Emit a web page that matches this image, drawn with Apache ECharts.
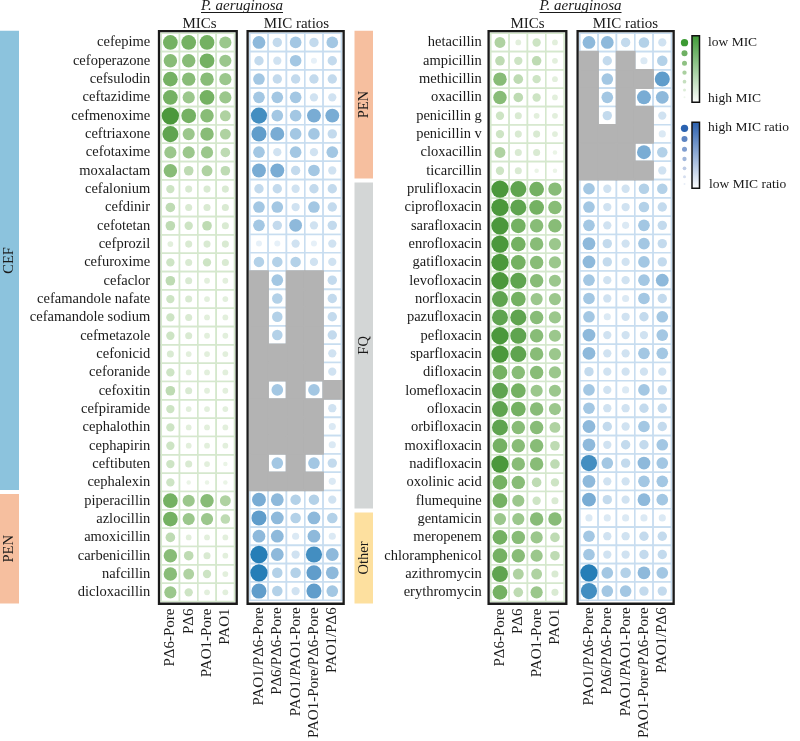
<!DOCTYPE html>
<html><head><meta charset="utf-8">
<script src="https://cdn.jsdelivr.net/npm/echarts@6/dist/echarts.min.js"></script>
<style>html,body{margin:0;padding:0;background:#fff}#c{width:800px;height:741px}</style>
</head><body><div id="c"></div>
<script>
// ---------------- data ----------------
const micCols = ['PΔ6-Pore', 'PΔ6', 'PAO1-Pore', 'PAO1'];
const ratioCols = ['PAO1/PΔ6-Pore', 'PΔ6/PΔ6-Pore', 'PAO1/PAO1-Pore', 'PAO1-Pore/PΔ6-Pore', 'PAO1/PΔ6'];

const leftDrugs = ['cefepime','cefoperazone','cefsulodin','ceftazidime','cefmenoxime','ceftriaxone','cefotaxime','moxalactam','cefalonium','cefdinir','cefotetan','cefprozil','cefuroxime','cefaclor','cefamandole nafate','cefamandole sodium','cefmetazole','cefonicid','ceforanide','cefoxitin','cefpiramide','cephalothin','cephapirin','ceftibuten','cephalexin','piperacillin','azlocillin','amoxicillin','carbenicillin','nafcillin','dicloxacillin'];
const rightDrugs = ['hetacillin','ampicillin','methicillin','oxacillin','penicillin g','penicillin v','cloxacillin','ticarcillin','prulifloxacin','ciprofloxacin','sarafloxacin','enrofloxacin','gatifloxacin','levofloxacin','norfloxacin','pazufloxacin','pefloxacin','sparfloxacin','difloxacin','lomefloxacin','ofloxacin','orbifloxacin','moxifloxacin','nadifloxacin','oxolinic acid','flumequine','gentamicin','meropenem','chloramphenicol','azithromycin','erythromycin'];

const leftGroups = [['CEF', 25], ['PEN', 6]];
const rightGroups = [['PEN', 8], ['FQ', 18], ['Other', 5]];

// levels 0 (high MIC / low ratio) .. 10 (low MIC / high ratio); null = not available
const N_ = null;
const leftMIC = [
[8,8,8,6],[7,7,8,6],[8,7,7,6],[8,6,8,6],[10,8,7,5],[9,6,7,5],[6,6,6,4],[7,4,5,4],
[3,2,2,2],[4,2,2,2],[4,3,4,2],[1,2,2,2],[3,2,3,2],[4,2,1,1],[3,2,1,1],[3,2,1,1],
[3,2,1,1],[2,1,1,1],[3,1,1,1],[4,2,1,1],[3,1,1,1],[3,1,1,1],[3,1,1,1],[3,2,1,0],
[3,0,0,0],[8,6,7,5],[8,6,6,4],[4,1,1,1],[7,4,2,1],[7,5,3,1],[6,3,1,1]];
const leftRatio = [
[6,3,5,3,5],[3,2,5,0,3],[5,3,3,3,3],[5,5,5,2,2],[9,5,5,7,7],[8,7,5,5,3],[5,2,5,2,5],[7,7,3,5,2],
[3,3,2,3,3],[5,5,2,5,3],[5,3,6,2,3],[0,0,2,0,2],[4,4,4,2,2],
[N_,5,N_,N_,3],[N_,4,N_,N_,3],[N_,4,N_,N_,3],[N_,4,N_,N_,3],[N_,N_,N_,N_,2],[N_,N_,N_,N_,2],
[N_,5,N_,5,N_],[N_,N_,N_,N_,2],[N_,N_,N_,N_,1],[N_,N_,N_,N_,1],[N_,5,N_,5,3],[N_,N_,N_,N_,1],
[7,6,4,4,2],[8,6,4,6,4],[6,6,1,6,1],[10,6,2,9,6],[10,4,4,8,6],[8,4,2,8,5]];
const rightMIC = [
[5,1,3,1],[4,3,4,1],[7,4,3,1],[7,4,3,1],[3,2,1,1],[3,2,2,1],[5,2,2,0],[3,2,0,0],
[10,9,8,7],[10,9,8,7],[10,8,7,7],[10,8,7,6],[10,8,7,6],[10,9,7,6],[9,8,6,6],[9,9,7,6],
[10,9,7,6],[10,9,7,6],[8,7,7,6],[9,8,6,6],[9,8,7,6],[9,7,7,5],[8,7,7,4],[10,7,7,4],
[8,7,4,3],[8,6,3,2],[6,6,7,7],[8,7,6,4],[8,7,6,4],[9,5,5,2],[8,4,6,2]];
const rightRatio = [
[6,6,3,4,2],[N_,3,N_,1,4],[N_,5,N_,N_,8],[N_,5,N_,7,6],[N_,3,N_,N_,2],[N_,N_,N_,N_,1],[N_,N_,N_,7,4],[N_,N_,N_,N_,2],
[5,2,2,4,4],[5,2,2,4,3],[5,2,1,5,3],[6,3,2,5,3],[6,3,2,5,3],[5,2,2,5,6],[5,2,1,5,3],[5,1,2,3,5],
[6,2,2,2,5],[6,2,2,5,5],[3,2,2,2,2],[5,2,1,5,3],[5,2,2,3,3],[6,3,2,5,3],[6,2,3,3,5],[9,5,3,6,5],
[6,2,2,5,5],[7,3,2,6,5],[1,1,1,1,1],[5,2,2,3,3],[5,2,2,3,3],[10,5,4,6,5],[9,5,5,3,3]];

// ---------------- styles / layout ----------------
const FONT = 'Liberation Serif';
const TXT = '#1a1a1a';
const groupColors = {CEF:'#8cc3dd', PEN:'#f6bf9f', FQ:'#d3d6d6', Other:'#fde09f'};
const greenStops = ['#eaf4e6','#d5e8cd','#afd2a1','#7eb76c','#4b983b'];
const blueStops = ['#e6f0f8','#cbdfef','#a3c7e3','#6fa5d0','#267eb7'];
const NA_COLOR = '#b3b3b3';
const CELL = 18.33, TOP = 33.3, NROW = leftDrugs.length, H = CELL * NROW;

const panels = [
  {left:161.2, cols:micCols,   drugs:leftDrugs,  vals:leftMIC,    line:'#d5e8cd', vm:0, labels:true,  margin:11},
  {left:249.8, cols:ratioCols, drugs:leftDrugs,  vals:leftRatio,  line:'#c8ddf0', vm:1, labels:false, margin:0},
  {left:490.8, cols:micCols,   drugs:rightDrugs, vals:rightMIC,   line:'#d5e8cd', vm:0, labels:true,  margin:9},
  {left:579.8, cols:ratioCols, drugs:rightDrugs, vals:rightRatio, line:'#c8ddf0', vm:1, labels:false, margin:0}
];

const grid = [], xAxis = [], yAxis = [], series = [];
const vmSeries = [[], []];
panels.forEach((p, i) => {
  grid.push({left:p.left, top:TOP, width:CELL * p.cols.length, height:H});
  xAxis.push({type:'category', gridIndex:i, data:p.cols, position:'bottom',
    axisLine:{show:false}, axisTick:{show:false}, splitLine:{show:false},
    axisLabel:{rotate:90, interval:0, margin:7, fontFamily:FONT, fontSize:15, color:TXT}});
  yAxis.push({type:'category', gridIndex:i, data:p.drugs, inverse:true,
    axisLine:{show:false}, axisTick:{show:false}, splitLine:{show:false},
    axisLabel:{show:p.labels, interval:0, margin:p.margin, fontFamily:FONT, fontSize:14.5, color:TXT}});
  const cells = [], dots = [];
  p.vals.forEach((row, r) => row.forEach((v, c) => {
    cells.push([c, r, v === null ? 1 : 0]);
    if (v !== null) dots.push([c, r, v]);
  }));
  cells.sort((a, b) => a[2] - b[2]);
  const lineColor = p.line;
  series.push({type:'custom', xAxisIndex:i, yAxisIndex:i, encode:{x:0, y:1}, silent:true, z:1,
    data:cells,
    renderItem:(params, api) => {
      const pt = api.coord([api.value(0), api.value(1)]);
      const s = api.size([1, 1]);
      const na = api.value(2) === 1;
      return {type:'rect', shape:{x:pt[0] - s[0] / 2, y:pt[1] - s[1] / 2, width:s[0], height:s[1]},
        style:{fill:na ? NA_COLOR : '#ffffff', stroke:na ? NA_COLOR : lineColor, lineWidth:1.6}};
    }});
  vmSeries[p.vm].push(series.length);
  series.push({type:'scatter', xAxisIndex:i, yAxisIndex:i, symbol:'circle', z:3, silent:true,
    data:dots, itemStyle:{opacity:1}});
});

const chart = echarts.init(document.getElementById('c'), null, {renderer:'canvas'});
chart.setOption({
  animation:false,
  backgroundColor:'#ffffff',
  grid, xAxis, yAxis, series,
  visualMap:[
    {type:'continuous', show:false, min:0, max:10, dimension:2, seriesIndex:vmSeries[0],
      inRange:{color:greenStops, symbolSize:[4.5, 17.3]}},
    {type:'continuous', show:false, min:0, max:10, dimension:2, seriesIndex:vmSeries[1],
      inRange:{color:blueStops, symbolSize:[6, 17.3]}}
  ]
});

// ---------------- decorations ----------------
const g = [];
function txt(x, y, text, size, opts) {
  opts = opts || {};
  g.push({type:'text', x:x, y:y, rotation:opts.rot || 0, silent:true,
    style:{text:text, fontFamily:FONT, fontSize:size, fontStyle:opts.italic ? 'italic' : 'normal',
      fill:TXT, align:opts.align || 'center', textAlign:opts.align || 'center',
      verticalAlign:'middle', textVerticalAlign:'middle'}});
}
// box borders
panels.forEach((p, i) => {
  g.push({type:'rect', silent:true, z:100,
    shape:{x:p.left - 2.2, y:TOP - 2.2, width:CELL * p.cols.length + 4.4, height:H + 4.4},
    style:{fill:'none', stroke:'#1a1a1a', lineWidth:2.3}});
});
// group bars
function groupBars(groups, gridIndex, x, w) {
  let start = 0;
  groups.forEach((gr, k) => {
    const end = start + gr[1] - 1;
    const yTop = chart.convertToPixel({gridIndex:gridIndex}, [0, start])[1] - CELL / 2 + (k === 0 ? -2.5 : 2.5);
    const yBot = chart.convertToPixel({gridIndex:gridIndex}, [0, end])[1] + CELL / 2 + (k === groups.length - 1 ? 2 : -1.5);
    g.push({type:'rect', silent:true, shape:{x:x, y:yTop, width:w, height:yBot - yTop}, style:{fill:groupColors[gr[0]]}});
    txt(x + w / 2, (yTop + yBot) / 2, gr[0], 14.5, {rot:Math.PI / 2});
    start = end + 1;
  });
}
groupBars(leftGroups, 0, 0, 19);
groupBars(rightGroups, 2, 354.5, 18.5);
// titles
[[242, 199.5, 296.5], [580.5, 527.5, 625.5]].forEach(t => {
  txt(t[0], 6, 'P. aeruginosa', 15, {italic:true});
  g.push({type:'line', silent:true, shape:{x1:t[0] - 41, y1:12.5, x2:t[0] + 41, y2:12.5}, style:{stroke:TXT, lineWidth:1}});
  txt(t[1], 24.5, 'MICs', 15);
  txt(t[2], 24.5, 'MIC ratios', 15);
});
// legends
const lgGreen = ['#3c9a33','#6fb063','#8fc183','#aad0a0','#c6dfbf','#dcecd7','#eef6ec'];
const lgBlue = ['#2a62b0','#5d84c2','#7f9dcf','#a0b6da','#bdcbe5','#d5deef','#e8eef7'];
const lgSize = [7.3, 6, 5, 4.3, 3.7, 3, 2];
const lgYg = [42.7, 53.3, 63.3, 72.7, 81.7, 90, 97.3];
const lgYb = [128.3, 139, 149.3, 159, 168.3, 176.7, 184];
lgSize.forEach((s, k) => {
  g.push({type:'circle', silent:true, shape:{cx:684.5, cy:lgYg[k], r:s / 2}, style:{fill:lgGreen[k]}});
  g.push({type:'circle', silent:true, shape:{cx:684.5, cy:lgYb[k], r:s / 2}, style:{fill:lgBlue[k]}});
});
g.push({type:'rect', silent:true, shape:{x:692, y:35.7, width:7.5, height:66.6},
  style:{stroke:'#111', lineWidth:1.5, fill:{type:'linear', x:0, y:0, x2:0, y2:1,
    colorStops:[{offset:0, color:'#3f9a36'}, {offset:1, color:'#ffffff'}]}}});
g.push({type:'rect', silent:true, shape:{x:692, y:122.3, width:7.5, height:66},
  style:{stroke:'#111', lineWidth:1.5, fill:{type:'linear', x:0, y:0, x2:0, y2:1,
    colorStops:[{offset:0, color:'#2a5fae'}, {offset:1, color:'#ffffff'}]}}});
txt(708, 42.5, 'low MIC', 13.5, {align:'left'});
txt(708, 98.3, 'high MIC', 13.5, {align:'left'});
txt(708, 127.3, 'high MIC ratio', 13.5, {align:'left'});
txt(709, 184, 'low MIC ratio', 13.5, {align:'left'});

chart.setOption({graphic:{elements:g}});
</script></body></html>
